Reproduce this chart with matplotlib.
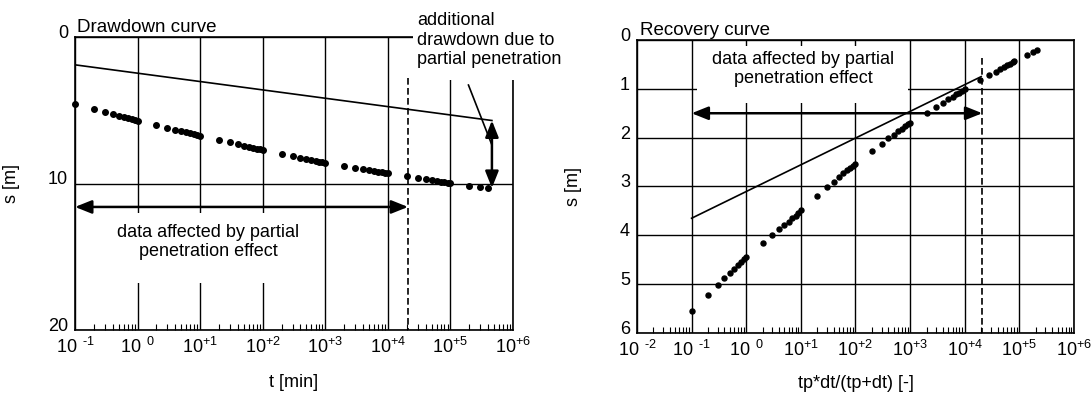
import matplotlib
matplotlib.use("Agg")
import matplotlib.pyplot as plt
from matplotlib.patches import Rectangle
from matplotlib.ticker import FixedLocator, LogLocator, NullFormatter
from matplotlib.transforms import ScaledTranslation

plt.rcParams['font.family'] = ['Liberation Sans', 'DejaVu Sans']
plt.rcParams['font.size'] = 13
plt.rcParams['mathtext.fontset'] = 'custom'
plt.rcParams['mathtext.rm'] = 'Liberation Sans'

# drawdown during pumping: time [min] and drawdown [m]
dd_t = [0.1, 0.2, 0.3, 0.4, 0.5, 0.6, 0.7, 0.8, 0.9,
        1, 2, 3, 4, 5, 6, 7, 8, 9,
        10, 20, 30, 40, 50, 60, 70, 80, 90,
        100, 200, 300, 400, 500, 600, 700, 800, 900,
        1e3, 2e3, 3e3, 4e3, 5e3, 6e3, 7e3, 8e3, 9e3,
        1e4, 2e4, 3e4, 4e4, 5e4, 6e4, 7e4, 8e4, 9e4,
        1e5, 2e5, 3e5, 4e5]
dd_s = [4.60, 4.93, 5.13, 5.27, 5.38, 5.46, 5.54, 5.60, 5.66,
        5.71, 6.02, 6.20, 6.33, 6.43, 6.51, 6.58, 6.64, 6.69,
        6.74, 7.03, 7.20, 7.32, 7.42, 7.49, 7.56, 7.62, 7.66,
        7.71, 7.98, 8.13, 8.25, 8.33, 8.40, 8.46, 8.51, 8.56,
        8.60, 8.81, 8.93, 9.02, 9.09, 9.14, 9.19, 9.23, 9.27,
        9.30, 9.50, 9.62, 9.70, 9.77, 9.82, 9.87, 9.91, 9.94,
        9.97, 10.14, 10.24, 10.30]
dd_fit_t = [0.1, 4.6e5]
dd_fit_s = [1.9, 5.7]

# recovery: tp*dt/(tp+dt) [-] and residual drawdown [m]
rec_x = [0.1, 0.2, 0.3, 0.4, 0.5, 0.6, 0.7, 0.8, 0.9,
         1, 2, 3, 4, 5, 6, 7, 8, 9,
         10, 20, 30, 40, 50, 60, 70, 80, 90,
         100, 200, 300, 400, 500, 600, 700, 800, 900,
         1e3, 2e3, 3e3, 4e3, 5e3, 6e3, 7e3, 8e3, 9e3,
         1e4, 1.9e4, 2.8e4, 3.7e4, 4.5e4, 5.3e4, 6.0e4, 6.8e4, 7.5e4,
         8.1e4, 1.4e5, 1.8e5, 2.1e5]
rec_s = [5.55, 5.22, 5.02, 4.88, 4.77, 4.69, 4.61, 4.55, 4.49,
         4.44, 4.15, 4.00, 3.88, 3.79, 3.72, 3.65, 3.60, 3.54,
         3.48, 3.20, 3.02, 2.90, 2.80, 2.73, 2.67, 2.62, 2.57,
         2.53, 2.27, 2.12, 2.01, 1.94, 1.87, 1.82, 1.77, 1.73,
         1.69, 1.49, 1.37, 1.28, 1.21, 1.16, 1.11, 1.08, 1.04,
         1.01, 0.82, 0.72, 0.65, 0.60, 0.55, 0.52, 0.49, 0.46,
         0.44, 0.30, 0.24, 0.20]
rec_fit_x = [0.1, 2e4]
rec_fit_s = [3.65, 0.75]

# end of the partial penetration influence
pp_limit = 2.1e4
dd_arrow_s = 11.6
rec_arrow_s = 1.5

dd_decades = [-1, 0, 1, 2, 3, 4, 5, 6]
rec_decades = [-2, -1, 0, 1, 2, 3, 4, 5, 6]
dd_yticks = [0, 10, 20]
rec_yticks = [0, 1, 2, 3, 4, 5, 6]


def decade_label(e):
    if e > 0:
        return r'$\mathregular{10^{+%d}}$' % e
    if e < 0:
        return r'$\mathregular{10\ ^{\text{-}%d}}$' % (-e)
    return r'$\mathregular{10\ ^{0}}$'


def setup_axes(ax, decades, yticks):
    ax.set_xscale('log')
    ax.set_xlim(10.0 ** decades[0], 10.0 ** decades[-1])
    ax.set_ylim(yticks[-1], yticks[0])
    ax.set_yticks(yticks)
    ax.xaxis.set_major_locator(FixedLocator([10.0 ** e for e in decades]))
    ax.set_xticklabels([decade_label(e) for e in decades])
    ax.xaxis.set_minor_locator(LogLocator(base=10, subs=range(2, 10), numticks=30))
    ax.xaxis.set_minor_formatter(NullFormatter())
    ax.tick_params(which='major', length=0, pad=5, labelsize=13)
    ax.tick_params(axis='x', which='minor', direction='in', length=4, width=0.8)
    ax.grid(True, which='major', color='black', lw=1.0)
    for sp in ax.spines.values():
        sp.set_linewidth(1.2)
    # depth labels sit a little above their grid lines
    lift = ScaledTranslation(0, 4 / 72, ax.figure.dpi_scale_trans)
    for lab in ax.get_yticklabels():
        lab.set_transform(lab.get_transform() + lift)


def mask(ax, x0, x1, y0, y1):
    ax.add_patch(Rectangle((x0, y0), x1 - x0, y1 - y0, transform=ax.transAxes,
                           facecolor='white', edgecolor='none', zorder=3,
                           clip_on=False))


def double_arrow(ax, p0, p1):
    ax.annotate('', xy=p1, xytext=p0,
                arrowprops=dict(arrowstyle='<|-|>,head_length=1.0,head_width=0.4',
                                mutation_scale=10, lw=1.8, color='black',
                                shrinkA=0, shrinkB=0), zorder=5)


fig = plt.figure(figsize=(10.92, 3.94), dpi=100)
ax1 = fig.add_axes([0.0687, 0.1624, 0.4011, 0.7437])
ax2 = fig.add_axes([0.5833, 0.1548, 0.4002, 0.7437])

# drawdown curve
setup_axes(ax1, dd_decades, dd_yticks)
ax1.plot(dd_fit_t, dd_fit_s, color='black', lw=1.2, zorder=4)
ax1.plot(dd_t, dd_s, 'o', ms=4, color='black', zorder=4, clip_on=False)
ax1.plot([pp_limit, pp_limit], [2.8, dd_yticks[-1]], color='black', lw=1.2,
         ls=(0, (4, 2)), zorder=4)
mask(ax1, 0.057, 0.537, 0.16, 0.40)
mask(ax1, 0.772, 1.08, 0.853, 1.2)
double_arrow(ax1, (dd_t[0], dd_arrow_s), (pp_limit, dd_arrow_s))
ax1.text(0.304, 0.30, 'data affected by partial\npenetration effect',
         transform=ax1.transAxes, ha='center', va='center', zorder=6)
double_arrow(ax1, (dd_fit_t[-1], dd_fit_s[-1]), (dd_fit_t[-1], dd_s[-1]))
ax1.plot([1.94e5, dd_fit_t[-1]], [3.28, 7.37], color='black', lw=1.2, zorder=5)
ax1.text(0.781, 1.085, 'additional\ndrawdown due to\npartial penetration',
         transform=ax1.transAxes, ha='left', va='top', zorder=6)
ax1.text(0.005, 1.005, 'Drawdown curve', transform=ax1.transAxes,
         ha='left', va='bottom', fontsize=13.5)
ax1.set_xlabel('t [min]')
ax1.set_ylabel('s [m]')
ax1.xaxis.set_label_coords(0.5, -0.15)
ax1.yaxis.set_label_coords(-0.126, 0.5)

# recovery curve
setup_axes(ax2, rec_decades, rec_yticks)
ax2.plot(rec_fit_x, rec_fit_s, color='black', lw=1.2, zorder=4)
ax2.plot(rec_x, rec_s, 'o', ms=3.6, color='black', zorder=4, clip_on=False)
ax2.plot([pp_limit, pp_limit], [0.37, rec_yticks[-1]], color='black', lw=1.2,
         ls=(0, (4, 2)), zorder=4)
mask(ax2, 0.137, 0.62, 0.785, 0.98)
double_arrow(ax2, (rec_x[0], rec_arrow_s), (pp_limit, rec_arrow_s))
ax2.text(0.38, 0.901, 'data affected by partial\npenetration effect',
         transform=ax2.transAxes, ha='center', va='center', zorder=6)
ax2.text(0.007, 1.005, 'Recovery curve', transform=ax2.transAxes,
         ha='left', va='bottom', fontsize=13.5)
ax2.set_xlabel('tp*dt/(tp+dt) [-]')
ax2.set_ylabel('s [m]')
ax2.xaxis.set_label_coords(0.5, -0.143)
ax2.yaxis.set_label_coords(-0.126, 0.5)

fig.savefig('out.png', dpi=100)
